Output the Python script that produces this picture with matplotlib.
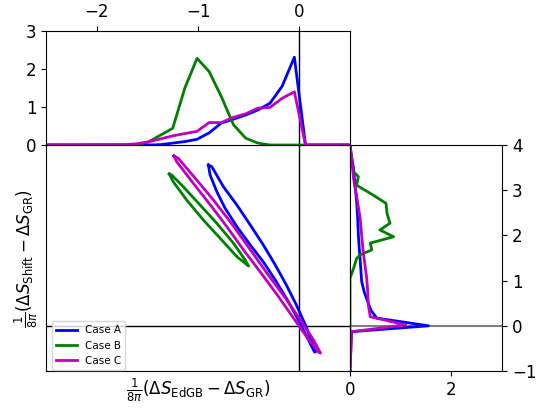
import numpy as np
import matplotlib
matplotlib.use("Agg")
import matplotlib.pyplot as plt

# --- main panel: closed loops (x = EdGB - GR, y = Shift - GR)
loop_a_x = [-0.898, -0.881, -0.815, -0.733, -0.617, -0.485, -0.356, -0.238, -0.119, -0.010, 0.089, 0.149,
            0.158, 0.129, 0.059, -0.030, -0.129, -0.238, -0.356, -0.485, -0.617, -0.750, -0.864, -0.898]
loop_a_y = [3.557, 3.336, 2.967, 2.600, 2.192, 1.788, 1.412, 1.013, 0.571, 0.128, -0.314, -0.580,
            -0.580, -0.380, 0.018, 0.460, 0.903, 1.345, 1.788, 2.230, 2.673, 3.077, 3.520, 3.557]

loop_b_x = [-1.284, -1.245, -1.112, -0.948, -0.782, -0.617, -0.502,
            -0.535, -0.650, -0.815, -0.980, -1.146, -1.260, -1.284]
loop_b_y = [3.358, 3.188, 2.783, 2.341, 1.936, 1.529, 1.323,
            1.456, 1.825, 2.268, 2.673, 3.077, 3.336, 3.358]

loop_c_x = [-1.238, -1.211, -1.047, -0.881, -0.716, -0.551, -0.386, -0.218, -0.059, 0.079, 0.188, 0.208,
            0.139, 0.010, -0.139, -0.307, -0.518, -0.683, -0.849, -1.013, -1.195, -1.238]
loop_c_y = [3.757, 3.631, 3.153, 2.681, 2.192, 1.677, 1.190, 0.681, 0.173, -0.270, -0.580, -0.602,
            -0.314, 0.128, 0.615, 1.124, 1.788, 2.303, 2.783, 3.226, 3.706, 3.757]

# --- top panel: distributions of EdGB - GR
top_x = [-2.5, -1.73, -1.61, -1.49, -1.37, -1.25, -1.13, -1.01, -0.89, -0.77, -0.65, -0.53,
         -0.41, -0.29, -0.17, -0.05, 0.06, 0.5]
top_a = [0.0, 0.0, 0.0, 0.0, 0.01, 0.05, 0.09, 0.15, 0.32, 0.58, 0.68, 0.79,
         0.92, 1.10, 1.55, 2.31, 0.0, 0.0]
top_b = [0.0, 0.0, 0.0, 0.08, 0.26, 0.44, 1.50, 2.28, 1.93, 1.27, 0.53, 0.18,
         0.05, 0.0, 0.0, 0.0, 0.0, 0.0]
top_c = [0.0, 0.01, 0.03, 0.08, 0.16, 0.24, 0.30, 0.36, 0.59, 0.59, 0.73, 0.82,
         0.97, 0.99, 1.23, 1.40, 0.0, 0.0]

# --- right panel: distributions of Shift - GR
right_a_y = [4.0, 3.75, 3.48, 3.10, 2.75, 2.40, 2.00, 1.60, 1.30, 0.98, 0.75, 0.50, 0.33, 0.17, 0.0, -0.13, -1.0]
right_a_x = [0.0, 0.03, 0.07, 0.10, 0.13, 0.15, 0.165, 0.19, 0.21, 0.23, 0.28, 0.36, 0.42, 0.53, 1.55, 0.03, 0.0]

right_b_y = [4.0, 3.63, 3.41, 3.30, 3.11, 2.89, 2.71, 2.49, 2.27, 2.12, 1.97, 1.83, 1.68, 1.57, 1.49, 1.27, 1.05, -1.0]
right_b_x = [0.0, 0.03, 0.07, 0.165, 0.13, 0.46, 0.71, 0.73, 0.79, 0.59, 0.86, 0.40, 0.43, 0.20, 0.13, 0.07, 0.0, 0.0]

right_c_y = [4.0, 3.60, 3.26, 2.80, 2.38, 2.00, 1.64, 1.30, 1.05, 0.75, 0.46, 0.20, 0.02, -0.13, -1.0]
right_c_x = [0.0, 0.04, 0.07, 0.14, 0.20, 0.23, 0.26, 0.30, 0.33, 0.35, 0.36, 0.40, 1.10, 0.03, 0.0]

labels = ["Case A", "Case B", "Case C"]
colors = ["b", "g", "m"]

fig = plt.figure(figsize=(5.54, 4.09), dpi=100)
ax = fig.add_axes([0.083, 0.0929, 0.549, 0.5526])
ax_top = fig.add_axes([0.083, 0.6455, 0.549, 0.2787])
ax_r = fig.add_axes([0.6318, 0.0929, 0.2744, 0.5526])

lw = 2
ax.axhline(0, color="k", lw=1)
ax.axvline(0, color="k", lw=1)
ax.plot(loop_a_x, loop_a_y, color=colors[0], lw=lw, label=labels[0])
ax.plot(loop_b_x, loop_b_y, color=colors[1], lw=lw, label=labels[1])
ax.plot(loop_c_x, loop_c_y, color=colors[2], lw=lw, label=labels[2])
ax.set_xlim(-2.5, 0.5)
ax.set_ylim(-1, 4)
ax.set_xticks([])
ax.set_yticks([])
ax.set_xlabel(r"$\frac{1}{8\pi}(\Delta S_{\rm EdGB}-\Delta S_{\rm GR})$", fontsize=12)
ax.set_ylabel(r"$\frac{1}{8\pi}(\Delta S_{\rm Shift}-\Delta S_{\rm GR})$", fontsize=12)
ax.legend(loc="lower left", fontsize=7.5, bbox_to_anchor=(0.015, 0.0), borderaxespad=0.1)

ax_top.axvline(0, color="k", lw=1)
ax_top.plot(top_x, top_a, color=colors[0], lw=lw)
ax_top.plot(top_x, top_b, color=colors[1], lw=lw)
ax_top.plot(top_x, top_c, color=colors[2], lw=lw)
ax_top.set_xlim(-2.5, 0.5)
ax_top.set_ylim(0, 3)
ax_top.set_yticks([0, 1, 2, 3])
ax_top.set_xticks([-2, -1, 0])
ax_top.xaxis.tick_top()
ax_top.tick_params(labelsize=12)

ax_r.axhline(0, color="gray", lw=1.5)
ax_r.plot(right_a_x, right_a_y, color=colors[0], lw=lw)
ax_r.plot(right_b_x, right_b_y, color=colors[1], lw=lw)
ax_r.plot(right_c_x, right_c_y, color=colors[2], lw=lw)
ax_r.set_xlim(0, 3)
ax_r.set_ylim(-1, 4)
ax_r.set_xticks([0, 2])
ax_r.set_yticks([-1, 0, 1, 2, 3, 4])
ax_r.yaxis.tick_right()
ax_r.tick_params(labelsize=12)

fig.savefig("out.png", dpi=100)
